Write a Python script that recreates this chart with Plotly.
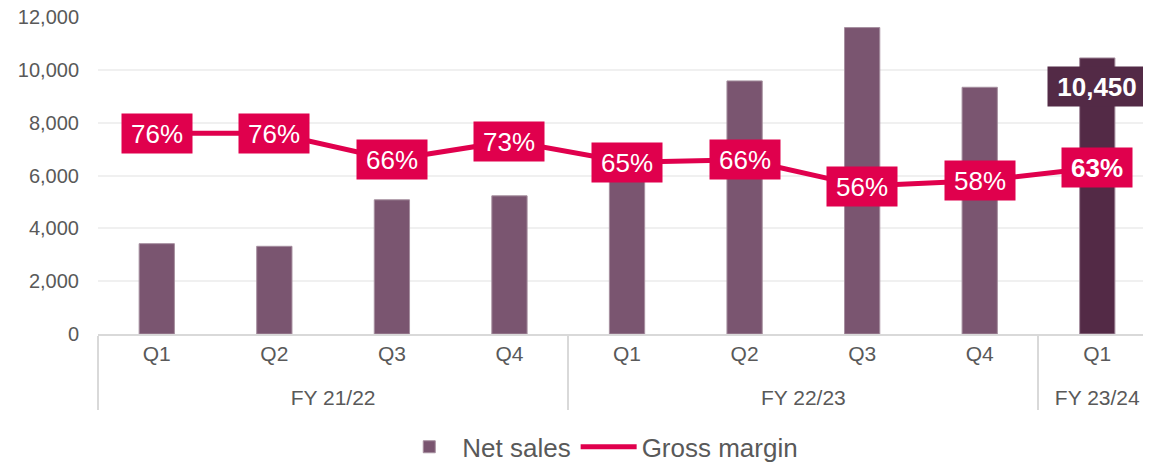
import plotly.graph_objects as go

fiscal_years = ["FY 21/22"] * 4 + ["FY 22/23"] * 4 + ["FY 23/24"]
quarters = ["Q1", "Q2", "Q3", "Q4", "Q1", "Q2", "Q3", "Q4", "Q1"]
net_sales = [3420, 3320, 5080, 5230, 6100, 9580, 11600, 9340, 10450]
gross_margin = [0.76, 0.76, 0.66, 0.73, 0.65, 0.66, 0.56, 0.58, 0.63]

BAR = "#7A5570"
BAR_LAST = "#532A46"
RED = "#E0004D"
GREY = "#595959"
FONT = "Liberation Sans, Arial, sans-serif"

bar_colors = [BAR] * (len(net_sales) - 1) + [BAR_LAST]
# second-row labels pushed one line down, then nudged up a little
fy_labels = ["<br><sup><span style='font-size:21px'>" + fy + "</span></sup>" for fy in fiscal_years]

fig = go.Figure()
fig.add_trace(go.Bar(
    x=[fy_labels, quarters], y=net_sales, name="Net sales",
    marker=dict(color=bar_colors, line=dict(color="#a68f9f", width=1)),
    width=0.3,
))
fig.add_trace(go.Scatter(
    x=[fy_labels, quarters], y=gross_margin, name="Gross margin",
    mode="lines", line=dict(color=RED, width=5), yaxis="y2",
))

annotations = []
last = len(gross_margin) - 1
for i, v in enumerate(gross_margin):
    txt = f"{v:.0%}"
    if i == last:
        txt = f"<b>{txt}</b>"
    annotations.append(dict(
        x=i, y=v, xref="x", yref="y2", text=txt, showarrow=False,
        font=dict(family=FONT, size=26, color="white"),
        bgcolor=RED, width=64, height=33, borderpad=3,
        xanchor="center", yanchor="middle",
    ))
annotations.append(dict(
    x=last, y=net_sales[last], xref="x", yref="y",
    text=f"<b>{net_sales[last]:,}</b>", showarrow=False,
    font=dict(family=FONT, size=26, color="white"),
    bgcolor=BAR_LAST, width=92, height=33, borderpad=3,
    xanchor="center", yanchor="top", yshift=-8,
))

# page body has an 8px default margin, so the figure is sized/offset for it
fig.update_layout(
    width=1143, height=456,
    margin=dict(l=90, r=0, t=9, b=130, autoexpand=False),
    paper_bgcolor="white", plot_bgcolor="white",
    font=dict(family=FONT, color=GREY),
    showlegend=True,
    legend=dict(orientation="h", x=0.4765, xanchor="center", y=-0.356, yanchor="middle",
                font=dict(size=26, color=GREY), itemwidth=56, bgcolor="rgba(0,0,0,0)"),
    annotations=annotations,
    xaxis=dict(
        type="multicategory", range=[-0.5, 8.457], automargin=False,
        showline=True, linecolor="#d9d9d9", linewidth=2,
        showdividers=True, dividercolor="#d9d9d9", dividerwidth=2,
        tickfont=dict(size=21, color=GREY), showgrid=False,
    ),
    yaxis=dict(
        range=[0, 12000], dtick=2000, tickformat=",", automargin=False,
        showgrid=True, gridcolor="#f0f0f0", gridwidth=2,
        zeroline=False, showline=False, ticklabeloverflow="allow",
        tickfont=dict(size=20, color=GREY), ticklabelstandoff=18,
    ),
    yaxis2=dict(range=[0, 1.2], overlaying="y", side="right", visible=False),
)

fig.write_html("out.html")
